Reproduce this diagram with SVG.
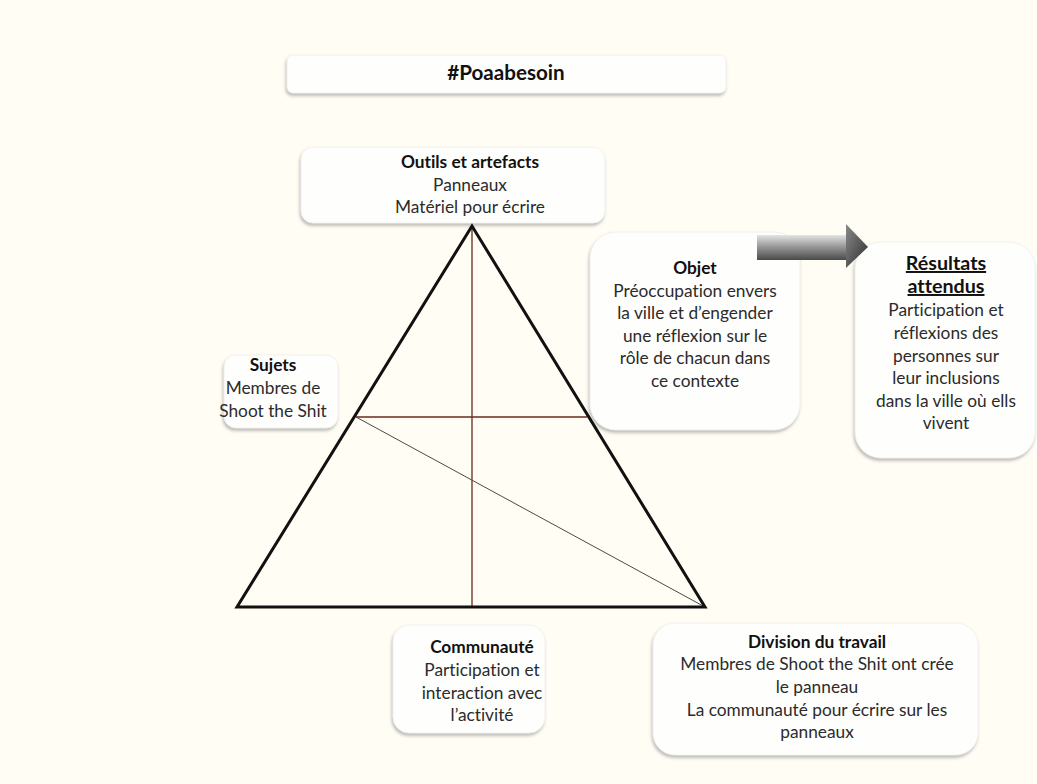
<svg xmlns="http://www.w3.org/2000/svg" width="1037" height="784" viewBox="0 0 1037 784">
<style>
.box{fill:#fefefc;stroke:#efefec;stroke-width:0.8;filter:url(#sh)}
text{font-family:Lato,"Open Sans","Liberation Sans",sans-serif;text-anchor:middle;fill:#2b2b2b;font-size:17.3px;font-variant-ligatures:none}
.t{font-weight:bold;fill:#111}
.big{font-size:19.7px;text-decoration:underline}
.head{font-size:20.6px}
</style>
<defs>
<filter id="sh" x="-10%" y="-10%" width="120%" height="130%">
<feDropShadow dx="-1" dy="2.5" stdDeviation="1.8" flood-color="#7a7a7a" flood-opacity="0.5"/>
</filter>
<linearGradient id="ag" x1="0" y1="0" x2="0" y2="1">
<stop offset="0" stop-color="#e4e4e4"/>
<stop offset="0.45" stop-color="#9a9a9a"/>
<stop offset="1" stop-color="#4a4a4a"/>
</linearGradient>
<linearGradient id="hg" x1="0" y1="0" x2="1" y2="1">
<stop offset="0" stop-color="#8a8a8a"/>
<stop offset="1" stop-color="#2e2e2e"/>
</linearGradient>
</defs>
<rect width="1037" height="784" fill="#fffdf4"/>

<g id="title">
<rect class="box" x="287" y="55" width="439" height="38" rx="6"/>
<text class="t head" x="506" y="80">#Poaabesoin</text>
</g>

<g id="outils">
<rect class="box" x="301" y="147" width="304" height="76" rx="12"/>
<text class="t" x="470" y="168">Outils et artefacts</text>
<text x="470" y="191">Panneaux</text>
<text x="470" y="213">Matériel pour écrire</text>
</g>

<g id="objet">
<rect class="box" x="590" y="232" width="210" height="198" rx="26"/>
<text class="t" x="695" y="274">Objet</text>
<text x="695" y="297">Préoccupation envers</text>
<text x="695" y="319">la ville et d’engender</text>
<text x="695" y="342">une réflexion sur le</text>
<text x="695" y="364">rôle de chacun dans</text>
<text x="695" y="387">ce contexte</text>
</g>

<g id="resultats">
<rect class="box" x="855" y="242" width="180" height="216" rx="26"/>
<text class="t big" x="946" y="270">Résultats</text>
<text class="t big" x="946" y="293">attendus</text>
<text x="946" y="316">Participation et</text>
<text x="946" y="339">réflexions des</text>
<text x="946" y="362">personnes sur</text>
<text x="946" y="384">leur inclusions</text>
<text x="946" y="407">dans la ville où ells</text>
<text x="946" y="429">vivent</text>
</g>

<g id="sujets">
<rect class="box" x="224" y="355" width="114" height="73" rx="12"/>
<text class="t" x="273" y="371">Sujets</text>
<text x="273" y="394">Membres de</text>
<text x="273" y="417">Shoot the Shit</text>
</g>

<g id="communaute">
<rect class="box" x="393" y="625" width="152" height="108" rx="16"/>
<text class="t" x="482" y="653">Communauté</text>
<text x="482" y="676">Participation et</text>
<text x="482" y="699">interaction avec</text>
<text x="482" y="721">l’activité</text>
</g>

<g id="division">
<rect class="box" x="653" y="623" width="325" height="132" rx="22"/>
<text class="t" x="817" y="648">Division du travail</text>
<text x="817" y="670">Membres de Shoot the Shit ont crée</text>
<text x="817" y="693">le panneau</text>
<text x="817" y="716">La communauté pour écrire sur les</text>
<text x="817" y="738">panneaux</text>
</g>

<g id="arrow">
<rect x="757" y="235" width="90" height="25" fill="url(#ag)"/>
<polygon points="846,224 868,247 846,268" fill="url(#hg)"/>
</g>

<g id="connectors">
<line x1="472" y1="226" x2="472" y2="607" stroke="#6a2a1c" stroke-width="1.3"/>
<line x1="356" y1="417" x2="587" y2="417" stroke="#6a2a1c" stroke-width="1.3"/>
<line x1="356" y1="417" x2="705" y2="607" stroke="#4a4a4a" stroke-width="1"/>
<polygon points="472,226 237,607 705,607" fill="none" stroke="#111" stroke-width="3" stroke-linejoin="miter"/>
</g>
</svg>
